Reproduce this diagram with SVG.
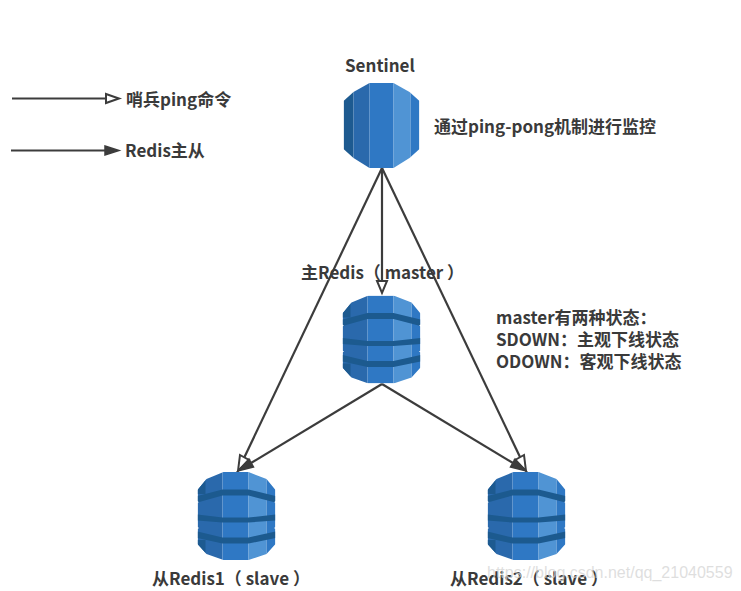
<svg xmlns="http://www.w3.org/2000/svg" width="741" height="591" viewBox="0 0 741 591">
<style>
text{font-family:"Noto Sans CJK SC","Noto Sans",sans-serif;font-weight:700;font-size:17px;fill:#3a3a3a}
.wm{font-family:"Liberation Sans",sans-serif;font-weight:400;font-size:16px;fill:#d4d4d4;fill-opacity:.75}
.ln{fill:none;stroke:#3c3c3c;stroke-width:2.200}
.open{fill:#fff;stroke:#3c3c3c;stroke-width:2}
.solid{fill:#3c3c3c;stroke:#3c3c3c;stroke-width:1.500}
.c1{fill:#1d5a90}.c2{fill:#2a69ac}.c3{fill:#2f78c4}.c4{fill:#5094d4}.band{fill:#1c5a8f}
</style>
<defs>
<clipPath id="oct"><polygon points="26,0 50,0 66,9 76,18 76,66 66,75 50,85 26,85 10,75 0,66 0,18 10,9"/></clipPath>
<clipPath id="dbc"><path d="M26,0H51L69,7L78,18V29L76.500,30L78,31V55L76.500,56L78,57V72L69,82L51,88H26L9,82L0,72V57L1.500,56L0,55V31L1.500,30L0,29V18L9,7Z"/></clipPath>
<g id="sent" clip-path="url(#oct)">
<rect class="c1" width="10" height="85"/><rect class="c2" x="10" width="16" height="85"/><rect class="c3" x="26" width="24" height="85"/><rect class="c4" x="50" width="17" height="85"/><rect class="c3" x="67" width="9" height="85"/>
</g>
<g id="db" clip-path="url(#dbc)">
<rect class="c2" width="25" height="88"/><rect class="c1" width="8" y="0" height="22"/><rect class="c1" width="8" y="68" height="20"/><rect class="c3" x="25" width="26" height="88"/><rect class="c4" x="51" width="18" height="88"/><rect class="c3" x="69" width="9" height="88"/>
<path class="band" d="M0,24L25,17.500H51L78,24V30.500L51,23.500H25L0,30.500Z"/>
<path class="band" d="M0,42.500L25,45.500H51L78,42.500V48.500L51,50.500H25L0,48.500Z"/>
<path class="band" d="M0,59.500L25,65.500H51L78,59.500V66L51,71.500H25L0,66Z"/>
</g>
</defs>
<rect width="741" height="591" fill="#fff"/>
<g id="connectors">
<path class="ln" d="M12,98.500H106"/><path class="open" d="M106,94L119,98.500L106,103Z"/>
<path class="ln" d="M11,150.500H106"/><path class="solid" d="M105,146L119,150.500L105,155Z"/>
<path class="ln" d="M382,168L382,281"/><path class="open" d="M377,281H387L382,293Z"/>
<path class="ln" d="M382,168L244.500,457"/><path class="open" d="M240,455L249,460L238,471Z"/>
<path class="ln" d="M382,168L520,457"/><path class="open" d="M515,460L524,455L526,471Z"/>
<path class="ln" d="M382,384L251,463"/><path class="solid" d="M249,459L253.500,467L238,471Z"/>
<path class="ln" d="M382,384L513,463"/><path class="solid" d="M515,459L510.500,467L526,471Z"/>
</g>
<g id="legend-ping"><text x="126" y="106">哨兵ping命令</text></g>
<g id="legend-redis"><text x="125" y="157">Redis主从</text></g>
<g id="sentinel"><text x="345" y="72">Sentinel</text><use href="#sent" x="343.500" y="83"/></g>
<g id="note-ping"><text x="434" y="133">通过ping-pong机制进行监控</text></g>
<g id="master"><text x="301" y="279">主Redis（ master ）</text><use href="#db" x="342.500" y="295.500"/></g>
<g id="note-master"><text x="496" y="324">master有两种状态：</text><text x="496" y="346">SDOWN：主观下线状态</text><text x="496" y="368">ODOWN：客观下线状态</text></g>
<g id="slave1"><use href="#db" x="197.500" y="472"/><text x="152" y="585">从Redis1（ slave ）</text></g>
<g id="slave2"><use href="#db" x="487.500" y="472"/><text x="450" y="585">从Redis2（ slave ）</text></g>
<text class="wm" x="487" y="578">https://blog.csdn.net/qq_21040559</text>
</svg>
